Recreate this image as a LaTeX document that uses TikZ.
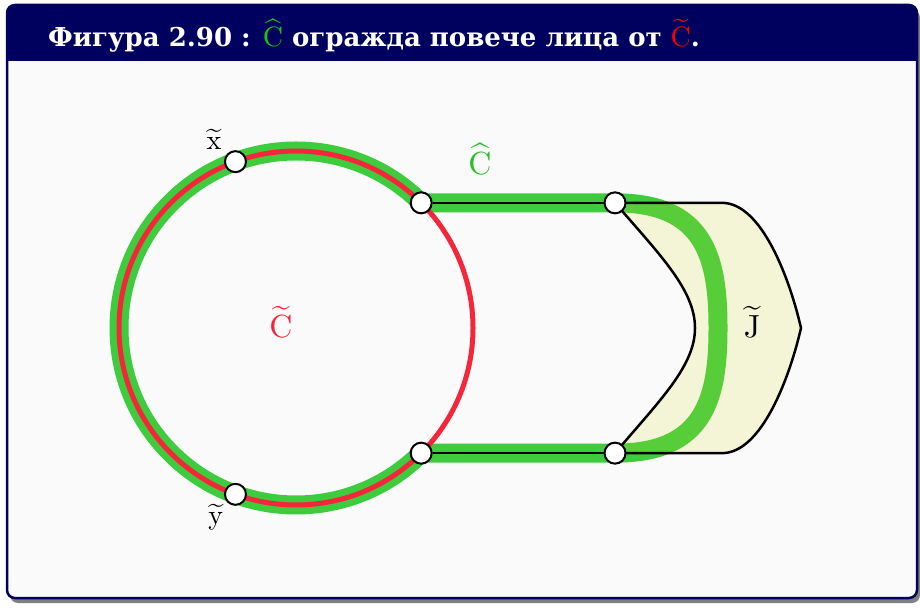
\documentclass[tikz,border=0pt]{standalone}
\usepackage[no-math]{fontspec}
\usepackage{graphicx}
\newfontfamily\titlefont{DejaVu Serif}
\usepackage{amsmath}
\definecolor{navy}{RGB}{0,0,94}
\definecolor{bandgreen}{RGB}{62,204,62}
\definecolor{labgreen}{RGB}{40,190,40}
\definecolor{titlegreen}{RGB}{20,200,20}
\definecolor{cred}{RGB}{245,38,58}
\definecolor{bg}{RGB}{250,250,250}
\definecolor{jfill}{RGB}{215,215,40}
\definecolor{shadowgray}{RGB}{128,128,128}
\tikzset{
  vert/.style={circle, draw=black, fill=white, line width=2pt, minimum size=21pt, inner sep=0pt},
  band/.style={bandgreen, line width=19pt, line join=round},
  redline/.style={cred, line width=5pt},
  blackline/.style={black, line width=2pt},
  bigl/.style={scale=3.2, inner sep=0pt},
  smalll/.style={scale=2.8, inner sep=0pt},
}
\newcommand{\tmath}[1]{\scalebox{2.8}{\fontsize{10}{12}\selectfont$#1$}}
\begin{document}
\begin{tikzpicture}[x=1pt,y=1pt]
\useasboundingbox (0,0) rectangle (920,610);
% frame
\fill[shadowgray, rounded corners=8pt] (10,7) rectangle (920,600);
\fill[bg, rounded corners=8pt] (7,12) rectangle (917,605);
\begin{scope}
  \clip[rounded corners=8pt] (7,12) rectangle (917,605);
  \fill[navy] (7,549) rectangle (917,605);
\end{scope}
\draw[navy, line width=2.5pt, rounded corners=8pt] (7,12) rectangle (917,605);
\node[anchor=base west, text=white, inner sep=0pt, font=\titlefont\bfseries\fontsize{26}{30}\selectfont] (title) at (48,563)
  {Фигура 2.90 : \textcolor{titlegreen}{\tmath{\widehat{\mathrm{C}}}} огражда повече лица от \textcolor{red}{\tmath{\widetilde{\mathrm{C}}}}.};
% geometry
\coordinate (c) at (296,282);
\coordinate (p45) at (421.16,407.16);
\coordinate (p315) at (421.16,156.84);
\coordinate (q1) at (615,407.16);
\coordinate (q2) at (615,156.84);
% green band
\draw[band] (p45) arc[start angle=45, end angle=315, radius=177] -- (q2)
  .. controls (705,156.84) and (718,212) .. (718,282)
  .. controls (718,352) and (705,407.16) .. (q1) -- cycle;
% red circle
\draw[redline] (c) circle[radius=177];
% J region
\fill[jfill, fill opacity=0.17] (q1) -- (722,407.16) .. controls (762,407.16) and (790,330) .. (801,282)
  .. controls (790,234) and (762,156.84) .. (722,156.84) -- (q2)
  .. controls (660,210) and (695,244) .. (695,282)
  .. controls (695,320) and (660,355) .. (q1) -- cycle;
\draw[black, line width=2.5pt, line join=round] (q1) -- (722,407.16) .. controls (762,407.16) and (790,330) .. (801,282)
  .. controls (790,234) and (762,156.84) .. (722,156.84) -- (q2)
  .. controls (660,210) and (695,244) .. (695,282)
  .. controls (695,320) and (660,355) .. (q1) -- cycle;
% vertices
\node[vert] (a) at (p45) {};
\node[vert] (b) at (p315) {};
\node[vert] (r1) at (q1) {};
\node[vert] (r2) at (q2) {};
\node[vert] (x) at (235.46,448.33) {};
\node[vert] (y) at (235.46,115.67) {};
\draw[blackline] (a) -- (r1);
\draw[blackline] (b) -- (r2);
% labels
\node[smalll] (xl) at (214,471) {$\widetilde{\mathrm{x}}$};
\node[smalll] (yl) at (216,93) {$\widetilde{\mathrm{y}}$};
\node[bigl, text=labgreen] (chl) at (480,451) {$\widehat{\mathrm{C}}$};
\node[bigl, text=cred] (ctl) at (281,288) {$\widetilde{\mathrm{C}}$};
\node[bigl, text=black] (jl) at (752,288) {$\widetilde{\mathrm{J}}$};
\end{tikzpicture}
\end{document}
